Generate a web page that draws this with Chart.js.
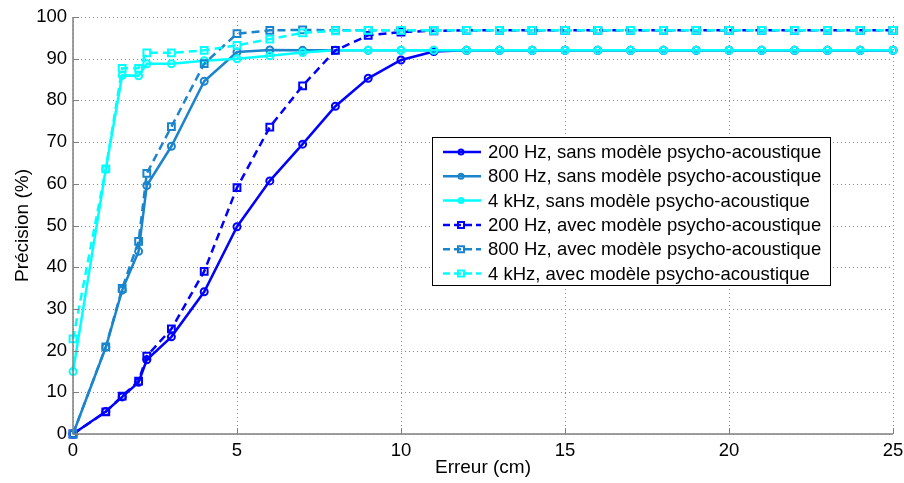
<!DOCTYPE html>
<html>
<head>
<meta charset="utf-8">
<script src="https://cdn.jsdelivr.net/npm/chart.js@4.4.1/dist/chart.umd.min.js"></script>
<style>
  html, body { margin: 0; padding: 0; background: #fff; }
  #wrap { width: 904px; height: 483px; }
</style>
</head>
<body>
<div id="wrap"><canvas id="myChart" width="904" height="483"></canvas></div>
<script>
// error values (cm)
var erreur = [0, 1, 1.5, 2, 2.25, 3, 4, 5, 6, 7, 8, 9, 10, 11, 12, 13, 14, 15, 16, 17, 18, 19, 20, 21, 22, 23, 24, 25];

// precision (%) per configuration
var hz200Sans = [0, 5.4, 8.9, 12.4, 17.8, 23.3, 34.1, 49.7, 60.7, 69.5, 78.6, 85.3, 89.7, 91.7, 92, 92, 92, 92, 92, 92, 92, 92, 92, 92, 92, 92, 92, 92];
var hz800Sans = [0, 20.8, 34.5, 43.8, 59.6, 69, 84.6, 91.6, 92.1, 92, 92, 92, 92, 92, 92, 92, 92, 92, 92, 92, 92, 92, 92, 92, 92, 92, 92, 92];
var khz4Sans  = [15, 63.5, 86, 85.9, 88.8, 88.8, 89.5, 90, 90.7, 91.5, 92, 92, 92, 92, 92, 92, 92, 92, 92, 92, 92, 92, 92, 92, 92, 92, 92, 92];
var hz200Avec = [0, 5.3, 9.1, 12.7, 18.7, 25.2, 39, 59.1, 73.6, 83.5, 92, 95.6, 96.4, 96.7, 96.8, 96.8, 96.8, 96.8, 96.8, 96.8, 96.8, 96.8, 96.8, 96.8, 96.8, 96.8, 96.8, 96.8];
var hz800Avec = [0, 20.9, 34.9, 46.2, 62.5, 73.7, 88.8, 96, 96.8, 96.9, 96.8, 96.8, 96.8, 96.8, 96.8, 96.8, 96.8, 96.8, 96.8, 96.8, 96.8, 96.8, 96.8, 96.8, 96.8, 96.8, 96.8, 96.8];
var khz4Avec  = [22.8, 63.6, 87.7, 87.7, 91.4, 91.4, 92, 93.2, 94.7, 96.2, 96.7, 96.8, 96.8, 96.8, 96.8, 96.8, 96.8, 96.8, 96.8, 96.8, 96.8, 96.8, 96.8, 96.8, 96.8, 96.8, 96.8, 96.8];

var seriesLabels = [
  '200 Hz, sans modèle psycho-acoustique',
  '800 Hz, sans modèle psycho-acoustique',
  '4 kHz, sans modèle psycho-acoustique',
  '200 Hz, avec modèle psycho-acoustique',
  '800 Hz, avec modèle psycho-acoustique',
  '4 kHz, avec modèle psycho-acoustique'
];

var BLUE = '#0000ff';
var MID = '#1a84cc';
var CYAN = '#00ffff';
var FONT = 'Liberation Sans, Arial, sans-serif';

function pts(values) {
  return values.map(function (v, i) { return { x: erreur[i], y: v }; });
}

function makeSet(i, values, color, dashed) {
  return {
    label: seriesLabels[i],
    data: pts(values),
    borderColor: color,
    backgroundColor: 'rgba(255,255,255,0)',
    borderWidth: 2.5,
    borderDash: dashed ? [8, 5] : [],
    pointStyle: dashed ? 'rect' : 'circle',
    pointRadius: dashed ? 4.8 : 3.5,
    pointBorderWidth: 2,
    pointBorderColor: color,
    pointBackgroundColor: 'rgba(255,255,255,0)',
    tension: 0,
    clip: 10,
    order: 5 - i
  };
}

var datasets = [
  makeSet(0, hz200Sans, BLUE, false),
  makeSet(1, hz800Sans, MID, false),
  makeSet(2, khz4Sans, CYAN, false),
  makeSet(3, hz200Avec, BLUE, true),
  makeSet(4, hz800Avec, MID, true),
  makeSet(5, khz4Avec, CYAN, true)
];

// dotted grid, drawn from the scale ticks
var dottedGrid = {
  id: 'dottedGrid',
  beforeDatasetsDraw: function (chart) {
    var ctx = chart.ctx, a = chart.chartArea;
    var xs = chart.scales.x, ys = chart.scales.y;
    ctx.save();
    ctx.strokeStyle = '#8a8a8a';
    ctx.lineWidth = 1;
    ctx.setLineDash([1, 3]);
    xs.ticks.forEach(function (t) {
      var px = Math.round(xs.getPixelForValue(t.value)) + 0.5;
      ctx.beginPath(); ctx.moveTo(px, a.bottom); ctx.lineTo(px, a.top); ctx.stroke();
    });
    ys.ticks.forEach(function (t) {
      var py = Math.round(ys.getPixelForValue(t.value)) + 0.5;
      ctx.beginPath(); ctx.moveTo(a.left, py); ctx.lineTo(a.right, py); ctx.stroke();
    });
    ctx.restore();
  }
};

// inward tick marks and solid left/bottom axes like matlab
var innerTicks = {
  id: 'innerTicks',
  afterDatasetsDraw: function (chart) {
    var ctx = chart.ctx, a = chart.chartArea;
    var xs = chart.scales.x, ys = chart.scales.y;
    ctx.save();
    ctx.strokeStyle = '#808080';
    ctx.lineWidth = 1;
    ctx.setLineDash([]);
    xs.ticks.forEach(function (t) {
      var px = Math.round(xs.getPixelForValue(t.value)) + 0.5;
      ctx.beginPath(); ctx.moveTo(px, a.bottom); ctx.lineTo(px, a.bottom - 6); ctx.stroke();
    });
    ys.ticks.forEach(function (t) {
      var py = Math.round(ys.getPixelForValue(t.value)) + 0.5;
      ctx.beginPath(); ctx.moveTo(a.left, py); ctx.lineTo(a.left + 6, py); ctx.stroke();
    });
    ctx.lineWidth = 1.5;
    ctx.beginPath();
    ctx.moveTo(a.left, a.top); ctx.lineTo(a.left, a.bottom); ctx.lineTo(a.right, a.bottom);
    ctx.stroke();
    ctx.restore();
  }
};

// legend box inside the plot
var boxLegend = {
  id: 'boxLegend',
  afterDraw: function (chart) {
    var ctx = chart.ctx;
    var x0 = 432, y0 = 137, w = 398, h = 148, row = 24.3;
    ctx.save();
    ctx.fillStyle = '#fff';
    ctx.fillRect(x0, y0, w, h);
    ctx.strokeStyle = '#000';
    ctx.lineWidth = 1;
    ctx.strokeRect(x0 + 0.5, y0 + 0.5, w, h);
    ctx.font = '18.5px ' + FONT;
    ctx.textBaseline = 'middle';
    chart.data.datasets.forEach(function (ds, i) {
      var cy = y0 + 15 + i * row;
      ctx.strokeStyle = ds.borderColor;
      ctx.lineWidth = 2.5;
      ctx.setLineDash(ds.borderDash.length ? [7, 4] : []);
      ctx.beginPath(); ctx.moveTo(443, cy); ctx.lineTo(481, cy); ctx.stroke();
      ctx.setLineDash([]);
      ctx.lineWidth = 2;
      ctx.beginPath();
      if (ds.pointStyle === 'rect') ctx.rect(458, cy - 3, 6, 6);
      else ctx.arc(461, cy, 2.5, 0, Math.PI * 2);
      ctx.stroke();
      ctx.fillStyle = '#000';
      ctx.fillText(ds.label, 488, cy + 1);
    });
    ctx.restore();
  }
};

new Chart(document.getElementById('myChart').getContext('2d'), {
  type: 'line',
  data: { datasets: datasets },
  plugins: [dottedGrid, innerTicks, boxLegend],
  options: {
    responsive: false,
    animation: false,
    layout: { padding: { left: 0, right: 11, top: 17, bottom: 0 } },
    plugins: { legend: { display: false }, tooltip: { enabled: false } },
    scales: {
      x: {
        type: 'linear',
        min: 0, max: 25,
        ticks: { stepSize: 5, color: '#000', padding: 6, font: { family: FONT, size: 18.5 } },
        grid: { display: false, drawTicks: false },
        border: { display: false },
        title: { display: true, text: 'Erreur (cm)', color: '#000', padding: { top: 0, bottom: 4 }, font: { family: FONT, size: 19 } },
        afterFit: function (s) { s.height = 49; s.paddingLeft = 0; s.paddingRight = 0; }
      },
      y: {
        min: 0, max: 100,
        ticks: { stepSize: 10, color: '#000', padding: 6, font: { family: FONT, size: 18.5 } },
        grid: { display: false, drawTicks: false },
        border: { display: false },
        title: { display: true, text: 'Précision (%)', color: '#000', padding: { top: 11, bottom: 0 }, font: { family: FONT, size: 19 } },
        afterFit: function (s) { s.width = 73; s.paddingTop = 0; s.paddingBottom = 0; }
      }
    }
  }
});
</script>
</body>
</html>
